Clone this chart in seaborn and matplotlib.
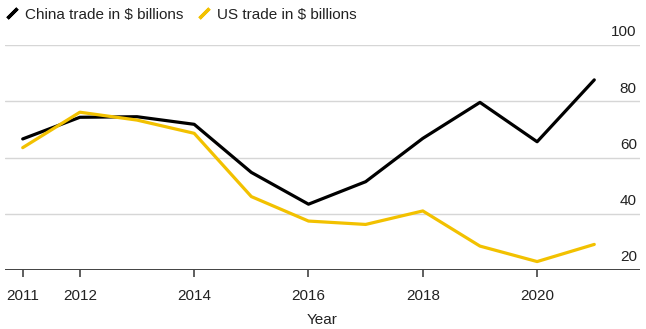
import matplotlib
matplotlib.use("Agg")
import matplotlib.pyplot as plt
from matplotlib.lines import Line2D
import seaborn as sns
import pandas as pd

years = [2011, 2012, 2013, 2014, 2015, 2016, 2017, 2018, 2019, 2020, 2021]
china = [66.6, 74.3, 74.5, 71.8, 54.7, 43.4, 51.4, 66.8, 79.6, 65.6, 87.6]
us = [63.5, 76.1, 73.3, 68.6, 46.1, 37.4, 36.2, 41.0, 28.5, 23.0, 29.1]
series_names = ["China trade in $ billions", "US trade in $ billions"]
x_ticks = [2011, 2012, 2014, 2016, 2018, 2020]
y_ticks = [20, 40, 60, 80, 100]

df = pd.DataFrame({
    "Year": years * 2,
    "Value": china + us,
    "Series": [series_names[0]] * len(years) + [series_names[1]] * len(years),
})

sns.set_style("white")
plt.rcParams["font.family"] = ["Liberation Sans", "DejaVu Sans"]

colors = {series_names[0]: "#000000", series_names[1]: "#f2c100"}
fs = 11

fig = plt.figure(figsize=(6.46, 3.29), dpi=100)
ax = fig.add_axes([5 / 646, 59 / 329, 635 / 646, 225 / 329])

sns.lineplot(data=df, x="Year", y="Value", hue="Series", palette=colors,
             linewidth=2.3, ax=ax, legend=False, clip_on=False)

ax.set_xlim(2010.69, 2021.8)
ax.set_ylim(20, 100)

for s in ax.spines.values():
    s.set_visible(False)

for v in y_ticks[1:]:
    ax.axhline(v, color="#d6d6d6", linewidth=1.0, zorder=0)
ax.axhline(20, color="#333333", linewidth=1.3, zorder=3)

ax.set_yticks([])
for v in y_ticks:
    ax.text(0.995, v + 2.0, str(v), transform=ax.get_yaxis_transform(),
            ha="right", va="bottom", fontsize=fs, color="#222222")

ax.set_xticks(x_ticks)
ax.set_xticklabels([str(t) for t in x_ticks], fontsize=fs, color="#222222")
ax.tick_params(axis="x", which="both", length=5, width=1.1, color="#333333",
               pad=9, bottom=True, direction="out")
ax.set_xlabel("Year", fontsize=fs, color="#222222", labelpad=7)
ax.set_ylabel("")

handles = [Line2D([], [], color=colors[n], linestyle="none", marker=(2, 2, -45),
                  markersize=10, markeredgewidth=2.4) for n in series_names]
leg = fig.legend(handles, series_names, loc="upper left", bbox_to_anchor=(-0.004, 1.005),
                 ncol=2, frameon=False, fontsize=fs, handlelength=0.7,
                 handletextpad=0.5, columnspacing=1.0, borderaxespad=0.2)
for t in leg.get_texts():
    t.set_color("#222222")

fig.savefig("out.png", dpi=100)
